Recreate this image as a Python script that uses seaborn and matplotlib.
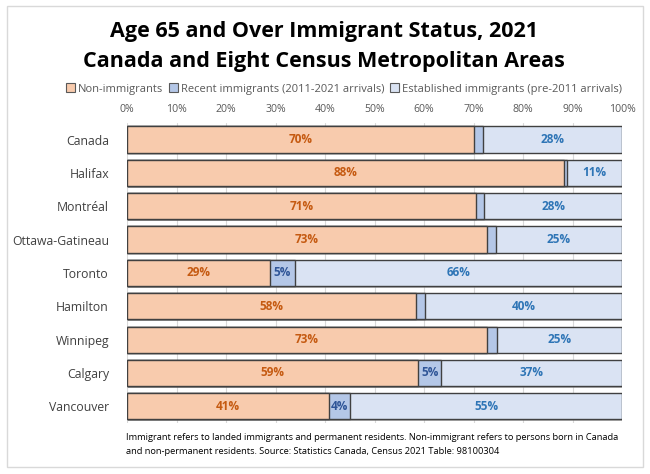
import matplotlib
matplotlib.use("Agg")
import matplotlib.pyplot as plt
import matplotlib.patheffects as pe
from matplotlib.patches import Rectangle
import seaborn as sns
import pandas as pd
import numpy as np

categories = ["Canada", "Halifax", "Montréal", "Ottawa-Gatineau", "Toronto",
              "Hamilton", "Winnipeg", "Calgary", "Vancouver"]
non_immigrants = [70.0, 88.2, 70.6, 72.7, 28.9, 58.4, 72.7, 58.8, 40.8]
recent_immigrants = [1.9, 0.7, 1.6, 1.8, 5.0, 1.8, 2.0, 4.7, 4.3]
established_immigrants = [28.1, 11.1, 27.8, 25.5, 66.1, 39.8, 25.3, 36.5, 54.9]
non_labels = ["70%", "88%", "71%", "73%", "29%", "58%", "73%", "59%", "41%"]
recent_labels = ["", "", "", "", "5%", "", "", "5%", "4%"]
est_labels = ["28%", "11%", "28%", "25%", "66%", "40%", "25%", "37%", "55%"]
series_names = ["Non-immigrants", "Recent immigrants (2011-2021 arrivals)",
                "Established immigrants (pre-2011 arrivals)"]
xticks = [0, 10, 20, 30, 40, 50, 60, 70, 80, 90, 100]

sns.set_style("white")
FONT = ["Open Sans", "DejaVu Sans"]
plt.rcParams["font.family"] = FONT

df = pd.DataFrame({
    "cat": categories,
    "non": non_immigrants,
    "rec": recent_immigrants,
    "est": established_immigrants,
})
df["c2"] = df["non"] + df["rec"]
df["c3"] = df["c2"] + df["est"]

colors = ["#F8CBAD", "#B4C7E7", "#DAE3F3"]
edge = "#404040"

fig = plt.figure(figsize=(6.5, 4.74), dpi=100)
ax = fig.add_axes([127/650, 1-423/474, (622-127)/650, (423-123)/474])

shadow = [pe.SimplePatchShadow(offset=(0.8, -1.2), shadow_rgbFace="#7f7f7f", alpha=0.6), pe.Normal()]
for col, c in zip(["c3", "c2", "non"], colors[::-1]):
    sns.barplot(data=df, y="cat", x=col, color=c, orient="h", ax=ax, width=0.79,
                edgecolor=edge, linewidth=1.0, saturation=1, zorder=3)

for i, p in enumerate(ax.patches):
    if i < len(categories):
        p.set_path_effects(shadow)

ax.set_xlim(0, 100)
ax.set_ylim(8.5, -0.5)
ax.set_xticks(xticks)
ax.set_xticklabels([f"{t}%" for t in xticks])
ax.xaxis.tick_top()
ax.tick_params(axis="x", length=0, pad=6, labelsize=7.6, colors="#595959")
ax.tick_params(axis="y", length=0, pad=13, labelsize=8.8, colors="#404040")
ax.set_xlabel("")
ax.set_ylabel("")
ax.grid(axis="x", color="#D9D9D9", linewidth=0.8, zorder=0)
for s in ax.spines.values():
    s.set_visible(False)

for i in range(len(categories)):
    n, r, e = non_immigrants[i], recent_immigrants[i], established_immigrants[i]
    ax.text(n/2, i, non_labels[i], ha="center", va="center", fontsize=8.5,
            fontweight="bold", color="#C55A11", zorder=5)
    if recent_labels[i]:
        ax.text(n + r/2, i, recent_labels[i], ha="center", va="center", fontsize=8.5,
                fontweight="bold", color="#2F5597", zorder=5)
    ax.text(n + r + e/2, i, est_labels[i], ha="center", va="center", fontsize=8.5,
            fontweight="bold", color="#2E75B6", zorder=5)

# Title
fig.text(324/650, 1-32/474, "Age 65 and Over Immigrant Status, 2021", ha="center", va="center",
         fontsize=15.5, fontweight="bold", color="black")
fig.text(324/650, 1-62/474, "Canada and Eight Census Metropolitan Areas", ha="center", va="center",
         fontsize=15.5, fontweight="bold", color="black")

# Legend
handles = [Rectangle((0, 0), 1, 1, facecolor=c, edgecolor="#595959", linewidth=0.8) for c in colors]
fig.legend(handles, series_names, loc="center", bbox_to_anchor=(344/650, 1-89/474), ncol=3,
           frameon=False, fontsize=8.0, handlelength=0.8, handleheight=0.8,
           handletextpad=0.3, columnspacing=0.5, labelcolor="#595959")

# Footnote
fig.text(126/650, 1-437/474,
         "Immigrant refers to landed immigrants and permanent residents. Non-immigrant refers to persons born in Canada",
         ha="left", va="center", fontsize=6.7, color="black")
fig.text(126/650, 1-452/474,
         "and non-permanent residents. Source: Statistics Canada, Census 2021 Table: 98100304",
         ha="left", va="center", fontsize=6.7, color="black")

# Frame
fig.patches.append(Rectangle((7/650, 1-467/474), (643-7)/650, (467-6)/474,
                             transform=fig.transFigure, fill=False, edgecolor="#D9D9D9",
                             linewidth=1.0))

fig.savefig("out.png", dpi=100, facecolor="white")
